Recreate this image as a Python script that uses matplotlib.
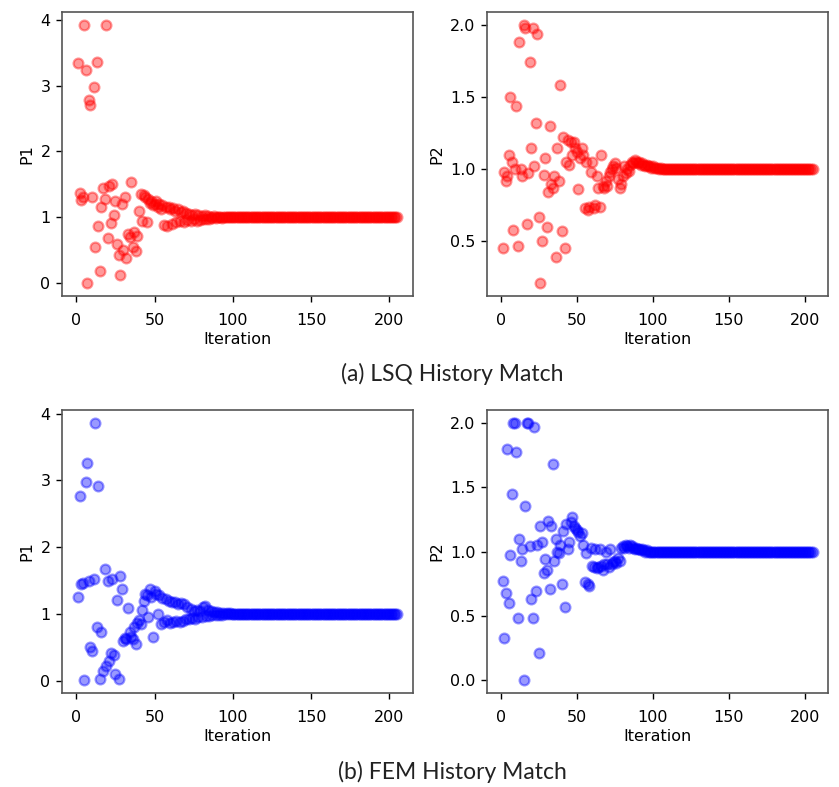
import numpy as np
import matplotlib
matplotlib.rcParams['font.size'] = 11.5
import matplotlib.pyplot as plt

# iterations 1..205, values
# values after iteration ~110 are all at the converged value 1.0
converged = [1.0, 1.0, 1.0, 1.0, 1.0, 1.0, 1.0, 1.0, 1.0, 1.0,
             1.0, 1.0, 1.0, 1.0, 1.0, 1.0, 1.0, 1.0, 1.0, 1.0,
             1.0, 1.0, 1.0, 1.0, 1.0, 1.0, 1.0, 1.0, 1.0, 1.0,
             1.0, 1.0, 1.0, 1.0, 1.0, 1.0, 1.0, 1.0, 1.0, 1.0,
             1.0, 1.0, 1.0, 1.0, 1.0, 1.0, 1.0, 1.0, 1.0, 1.0,
             1.0, 1.0, 1.0, 1.0, 1.0, 1.0, 1.0, 1.0, 1.0, 1.0,
             1.0, 1.0, 1.0, 1.0, 1.0, 1.0, 1.0, 1.0, 1.0, 1.0,
             1.0, 1.0, 1.0, 1.0, 1.0, 1.0, 1.0, 1.0, 1.0, 1.0,
             1.0, 1.0, 1.0, 1.0, 1.0, 1.0, 1.0, 1.0, 1.0, 1.0,
             1.0, 1.0, 1.0, 1.0, 1.0]

lsq_p1_early = [3.34, 1.37, 1.26, 1.30, 3.92, 3.24, 0.00, 2.78, 2.71, 1.30,
                2.98, 0.55, 3.36, 0.86, 0.18, 1.16, 1.44, 1.28, 3.92, 0.68,
                1.47, 0.91, 1.50, 1.03, 1.25, 0.60, 0.42, 0.13, 1.20, 0.50,
                1.31, 0.38, 0.75, 0.70, 1.53, 0.55, 0.78, 0.48, 0.72, 1.10,
                1.36, 0.95, 1.33, 1.30, 0.93, 1.28, 1.22, 1.25, 1.18, 1.20,
                1.24, 1.15, 1.20, 1.12, 1.18, 0.88, 1.15, 0.86, 1.16, 1.12,
                0.90, 1.14, 1.10, 0.92, 1.12, 0.95, 1.08, 1.10, 0.93, 1.06,
                0.96, 1.05, 0.94, 1.04, 0.97, 1.05, 0.95, 1.03, 0.96, 1.02,
                0.97, 1.03, 0.98, 1.02, 0.98, 1.01, 0.99, 1.02, 0.99, 1.01,
                1.00, 1.01, 0.99, 1.00, 1.01, 1.00, 1.00, 1.01, 1.00, 1.00,
                1.00, 1.00, 1.00, 1.00, 1.00, 1.00, 1.00, 1.00, 1.00, 1.00]

lsq_p2_early = [0.45, 0.98, 0.92, 0.95, 1.10, 1.50, 1.05, 0.58, 1.00, 1.44,
                0.47, 1.88, 1.00, 0.95, 2.00, 1.98, 0.62, 0.97, 1.74, 1.15,
                1.98, 1.02, 1.32, 1.94, 0.67, 0.21, 0.50, 0.96, 1.08, 0.60,
                0.84, 1.30, 0.90, 0.87, 0.95, 0.39, 1.15, 0.92, 1.58, 0.57,
                1.22, 0.45, 1.05, 1.20, 1.03, 1.19, 1.10, 1.19, 1.15, 1.12,
                0.86, 1.08, 1.15, 1.10, 0.73, 1.05, 0.72, 0.74, 0.98, 1.05,
                0.73, 0.75, 0.95, 0.87, 0.74, 1.10, 0.88, 0.87, 0.92, 0.88,
                0.95, 0.98, 1.00, 1.02, 1.04, 1.01, 0.93, 0.87, 0.90, 0.95,
                1.02, 0.97, 1.00, 0.99, 1.03, 1.05, 1.04, 1.06, 1.05, 1.04,
                1.05, 1.03, 1.04, 1.03, 1.02, 1.03, 1.02, 1.02, 1.01, 1.02,
                1.01, 1.01, 1.01, 1.00, 1.01, 1.00, 1.00, 1.00, 1.00, 1.00]

fem_p1_early = [1.25, 2.77, 1.45, 1.47, 0.01, 2.97, 3.26, 1.50, 0.50, 0.45,
                1.53, 3.86, 0.81, 2.92, 0.03, 0.73, 0.15, 1.68, 0.22, 1.49,
                0.30, 0.42, 1.52, 0.38, 0.10, 1.21, 0.03, 1.57, 1.38, 0.60,
                0.64, 0.63, 1.09, 0.73, 0.65, 0.62, 0.80, 0.55, 0.86, 0.91,
                0.85, 1.06, 1.20, 1.30, 1.29, 0.95, 1.38, 1.25, 0.66, 1.35,
                1.30, 1.00, 1.28, 0.85, 1.24, 0.88, 1.22, 0.91, 1.20, 0.87,
                1.18, 0.88, 1.18, 0.90, 1.15, 0.88, 1.17, 0.90, 1.15, 0.92,
                1.10, 0.93, 1.08, 0.94, 1.05, 0.93, 1.06, 0.95, 1.05, 0.96,
                1.10, 1.12, 0.97, 1.06, 0.97, 1.04, 0.98, 1.03, 0.98, 1.03,
                0.99, 1.02, 0.99, 1.02, 1.00, 1.01, 1.00, 1.01, 1.00, 1.00,
                1.00, 1.00, 1.00, 1.00, 1.00, 1.00, 1.00, 1.00, 1.00, 1.00]

fem_p2_early = [0.77, 0.33, 0.68, 1.80, 0.60, 0.97, 1.45, 2.00, 2.00, 1.77,
                0.48, 1.10, 0.93, 1.02, 0.00, 1.35, 2.00, 2.00, 1.04, 0.63,
                0.48, 1.97, 0.69, 1.05, 0.21, 1.20, 1.07, 0.83, 0.94, 0.86,
                1.24, 0.71, 1.20, 1.68, 0.93, 1.10, 1.00, 0.99, 1.05, 0.75,
                1.16, 0.57, 1.21, 1.02, 1.07, 1.23, 1.27, 1.20, 1.18, 1.17,
                1.15, 1.12, 1.14, 1.05, 0.76, 0.99, 0.75, 0.73, 1.03, 0.89,
                0.88, 1.02, 0.87, 0.88, 1.02, 0.89, 0.86, 0.90, 1.00, 0.90,
                0.88, 1.02, 0.90, 0.92, 0.93, 0.91, 0.95, 0.93, 1.03, 1.04,
                1.03, 1.05, 1.04, 1.03, 1.05, 1.04, 1.03, 1.02, 1.03, 1.02,
                1.02, 1.01, 1.02, 1.01, 1.00, 1.01, 1.00, 1.00, 1.00, 1.00,
                1.00, 1.00, 1.00, 1.00, 1.00, 1.00, 1.00, 1.00, 1.00, 1.00]

lsq_p1 = np.array(lsq_p1_early + converged)
lsq_p2 = np.array(lsq_p2_early + converged)
fem_p1 = np.array(fem_p1_early + converged)
fem_p2 = np.array(fem_p2_early + converged)
iteration = np.arange(1, len(lsq_p1) + 1)

W, H = 839, 787
fig = plt.figure(figsize=(W/100, H/100), dpi=100)

def box(x0, x1, y0, y1):
    # pixel box -> figure fraction
    return [x0/W, 1 - y1/H, (x1 - x0)/W, (y1 - y0)/H]

panels = [
    (box(62, 413, 12, 296), lsq_p1, 'red', 'P1', [0, 1, 2, 3, 4]),
    (box(487, 828, 12, 296), lsq_p2, 'red', 'P2', [0.5, 1.0, 1.5, 2.0]),
    (box(62, 413, 410, 693), fem_p1, 'blue', 'P1', [0, 1, 2, 3, 4]),
    (box(487, 828, 410, 693), fem_p2, 'blue', 'P2', [0.0, 0.5, 1.0, 1.5, 2.0]),
]

for rect, vals, c, name, yt in panels:
    ax = fig.add_axes(rect)
    ax.scatter(iteration, vals, color=c, alpha=0.4, s=50, linewidths=1.6)
    ax.set_xticks([0, 50, 100, 150, 200])
    ax.set_yticks(yt)
    if isinstance(yt[0], float):
        ax.set_yticklabels([f"{v:.1f}" for v in yt])
    ax.set_xlabel("Iteration", labelpad=3)
    ax.set_ylabel(name, labelpad=4)
    ax.tick_params(length=4.2, width=1.0, pad=4)
    ax.tick_params(axis='x', pad=8)
    for sp in ax.spines.values():
        sp.set_color('#555555')
        sp.set_linewidth(1.2)

fig.text(452/W, 1 - 374/H, "(a) LSQ History Match", ha='center', va='center',
         family='Lato', fontsize=16.5, color='#222222')
fig.text(452/W, 1 - 772/H, "(b) FEM History Match", ha='center', va='center',
         family='Lato', fontsize=16.5, color='#222222')

fig.savefig("out.png", dpi=100)
